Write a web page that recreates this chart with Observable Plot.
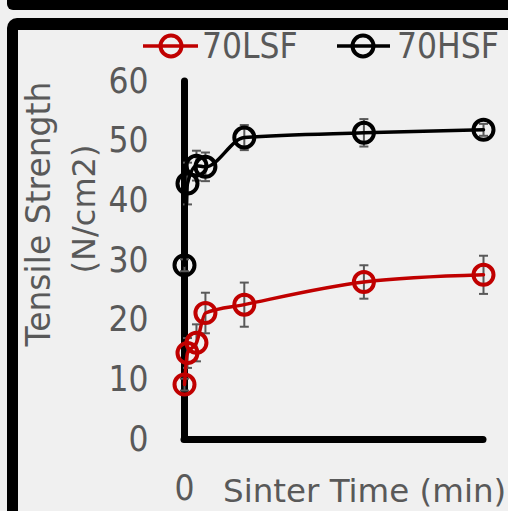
<!DOCTYPE html>
<html>
<head>
<meta charset="utf-8">
<script src="https://cdn.jsdelivr.net/npm/d3@7"></script>
<script src="https://cdn.jsdelivr.net/npm/@observablehq/plot@0.6"></script>
<style>
  html, body { margin: 0; padding: 0; background: #f0f0f0; }
  #wrap { position: relative; width: 508px; height: 511px; overflow: hidden; background: #f0f0f0; }
  #band { position: absolute; left: 7px; top: -12px; width: 530px; height: 22px; background: #000; border-radius: 6px; }
  #frame { position: absolute; left: 7px; top: 18px; width: 620px; height: 620px; box-sizing: border-box;
           border-left: 11px solid #000; border-top: 12px solid #000; border-radius: 10px; background: #f0f0f0; }
  #chart, #overlay { position: absolute; left: 0; top: 0; }
</style>
</head>
<body>
<div id="wrap">
  <div id="band"></div>
  <div id="frame"></div>
  <div id="chart"></div>
  <svg id="overlay" width="508" height="511"></svg>
</div>
<script>
// Data
const times  = [0, 0.5, 2, 3.5, 10, 30, 50];           // sinter time (min)
const lsf    = [9.2, 14.5, 16.2, 21.2, 22.6, 26.4, 27.6]; // 70LSF tensile strength
const lsfErr = [1.0, 2.5, 3.1, 3.4, 3.7, 2.8, 3.2];
const hsf    = [29.2, 42.9, 45.9, 45.7, 50.6, 51.4, 51.9]; // 70HSF tensile strength
const hsfErr = [1.0, 3.5, 2.5, 2.4, 2.1, 2.3, 1.0];
const yTicks = [0, 10, 20, 30, 40, 50, 60];
const xTicks = [0];
const seriesNames = ["70LSF", "70HSF"];
const seriesColors = ["#c00000", "#000000"];

const rows = [];
times.forEach((t, i) => {
  rows.push({series: "70LSF", t, v: lsf[i], e: lsfErr[i]});
  rows.push({series: "70HSF", t, v: hsf[i], e: hsfErr[i]});
});
const lsfRows = rows.filter(d => d.series === "70LSF");
const hsfRows = rows.filter(d => d.series === "70HSF");

const capSymbol = {
  draw(ctx, size) {
    const w = Math.sqrt(size / Math.PI);
    ctx.moveTo(-w, 0);
    ctx.lineTo(w, 0);
  }
};

const FONT = "'DejaVu Sans Condensed', 'DejaVu Sans', sans-serif";
const TFONT = "'DejaVu Sans', sans-serif";
const errColor = "#595959";

const errMarks = (data) => [
  Plot.ruleX(data, {x: "t", y1: d => d.v - d.e, y2: d => d.v + d.e, stroke: errColor, strokeWidth: 2}),
  Plot.dot(data, {x: "t", y: d => d.v + d.e, symbol: capSymbol, r: 4.5, stroke: errColor, strokeWidth: 2}),
  Plot.dot(data, {x: "t", y: d => d.v - d.e, symbol: capSymbol, r: 4.5, stroke: errColor, strokeWidth: 2})
];

const chart = Plot.plot({
  width: 508,
  height: 511,
  marginLeft: 184,
  marginRight: 25,
  marginTop: 81,
  marginBottom: 72,
  style: {background: "transparent", fontFamily: FONT, fontSize: "35px", color: "#595959", overflow: "visible"},
  x: {domain: [0, 50]},
  y: {domain: [0, 60]},
  marks: [
    Plot.axisY({ticks: yTicks, tickSize: 0, tickPadding: 36, label: null}),
    Plot.axisX({ticks: xTicks, tickSize: 0, tickPadding: 36, label: null}),
    Plot.ruleX([0], {y1: 0, y2: 60, stroke: "#000", strokeWidth: 7, strokeLinecap: "round"}),
    Plot.ruleY([0], {x1: 0, x2: 50, stroke: "#000", strokeWidth: 7, strokeLinecap: "round"}),
    ...errMarks(lsfRows),
    ...errMarks(hsfRows),
    Plot.line(lsfRows, {x: "t", y: "v", stroke: seriesColors[0], strokeWidth: 3.5, curve: "monotone-x"}),
    Plot.line(hsfRows, {x: "t", y: "v", stroke: seriesColors[1], strokeWidth: 3.5, curve: "monotone-x"}),
    Plot.dot(lsfRows, {x: "t", y: "v", r: 10, stroke: seriesColors[0], strokeWidth: 4, fill: "none"}),
    Plot.dot(hsfRows, {x: "t", y: "v", r: 10, stroke: seriesColors[1], strokeWidth: 4, fill: "none"})
  ]
});
document.getElementById("chart").appendChild(chart);

// Titles and legend
const ov = d3.select("#overlay");
const txt = (s, x, y, rot, anchor, family, size) => ov.append("text")
  .attr("transform", `translate(${x},${y})` + (rot ? ` rotate(${rot})` : ""))
  .attr("text-anchor", anchor)
  .attr("fill", "#595959")
  .style("font-family", family)
  .style("font-size", size)
  .text(s);

txt("Sinter Time (min)", 223, 502, 0, "start", TFONT, "32.5px");
txt("Tensile Strength", 50, 214, -90, "middle", TFONT, "33px");
txt("(N/cm2)", 95, 209, -90, "middle", TFONT, "32px");

const legendX = [[143, 198, 171, 202], [337, 390, 363, 397]];
seriesNames.forEach((name, i) => {
  const [x1, x2, cx, tx] = legendX[i];
  ov.append("line").attr("x1", x1).attr("x2", x2).attr("y1", 46).attr("y2", 46)
    .attr("stroke", seriesColors[i]).attr("stroke-width", 3.5);
  ov.append("circle").attr("cx", cx).attr("cy", 46).attr("r", 10.5)
    .attr("stroke", seriesColors[i]).attr("stroke-width", 4).attr("fill", "none");
  txt(name, tx, 58, 0, "start", FONT, "35px");
});
</script>
</body>
</html>
